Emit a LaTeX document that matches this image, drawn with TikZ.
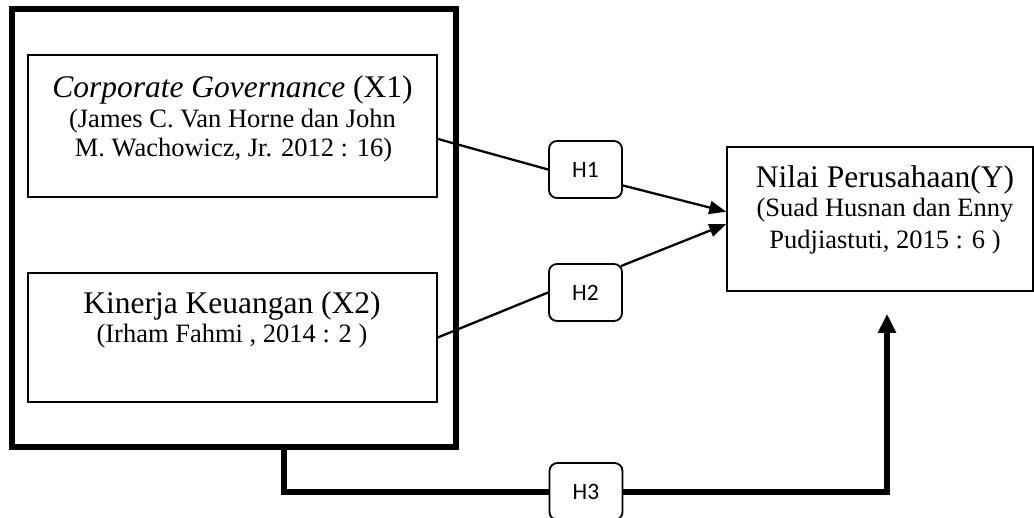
\documentclass[tikz,border=0pt]{standalone}
\usepackage{fontspec}
\setmainfont{Liberation Serif}
\newfontfamily\hfont{Carlito}
\usetikzlibrary{arrows.meta,calc}
\begin{document}
\begin{tikzpicture}[x=1pt,y=-1pt,
  outerbox/.style={draw,line width=6pt,inner sep=0pt,minimum width=444pt,minimum height=438pt},
  varbox/.style={draw,line width=1.5pt,inner sep=0pt,minimum width=409pt},
  bigtxt/.style={anchor=base,inner sep=0pt,font=\fontsize{31.5}{36}\selectfont},
  smalltxt/.style={anchor=base,inner sep=0pt,font=\fontsize{26.5}{31}\selectfont},
  hbox/.style={draw,line width=1.8pt,rounded corners=8pt,minimum width=73pt,minimum height=57pt,inner sep=0pt,font=\hfont\fontsize{23.5}{27}\selectfont},
  thinline/.style={line width=2.3pt},
  thinarrow/.style={line width=2.3pt,-{Triangle[length=17pt,width=13pt]}},
  thickline/.style={line width=6pt},
  thickarrow/.style={line width=6pt,-{Triangle[length=19pt,width=17pt]}}]
\useasboundingbox (0,0) rectangle (1034,517);
% outer group box
\node[outerbox] (outer) at (234,228) {};
% X1
\node[varbox,minimum height=142pt] (x1) at (232.5,126) {};
\node[bigtxt] (x1a) at (232.5,97) {\textit{Corporate Governance} (X1)};
\node[smalltxt] (x1b) at (232.5,127) {(James C. Van Horne dan John};
\node[smalltxt] (x1c) at (233.5,156) {M. Wachowicz, Jr. 2012 : 16)};
% X2
\node[varbox,minimum height=129pt] (x2) at (232.5,337.5) {};
\node[bigtxt] (x2a) at (232,313) {Kinerja Keuangan (X2)};
\node[smalltxt] (x2b) at (232,342) {(Irham Fahmi , 2014 : 2 )};
% Y
\node[varbox,minimum width=306pt,minimum height=144pt] (ybox) at (880,219) {};
\node[bigtxt] (ya) at (885,187) {Nilai Perusahaan(Y)};
\node[smalltxt] (yb) at (885,216) {(Suad Husnan dan Enny};
\node[smalltxt] (yc) at (885,248) {Pudjiastuti, 2015 : 6 )};
% hypotheses
\node[hbox] (h1) at (585.5,169.5) {H1};
\node[hbox] (h2) at (585.5,292.5) {H2};
\node[hbox] (h3) at (586,491.5) {H3};
% connectors
\draw[thinline] ($(x1.north east)!0.59!(x1.south east)$) -- (h1.west);
\draw[thinarrow] ($(h1.east)+(0,16)$) -- ($(ybox.north west)!0.45!(ybox.south west)$);
\draw[thinline] (x2.east) -- (h2.west);
\draw[thinarrow] ($(h2.north east)+(-2,3)$) -- ($(ybox.north west)!0.535!(ybox.south west)$);
\draw[thickline] ($(outer.south west)!0.61!(outer.south east)$) |- (h3.west);
\draw[thickarrow] (h3.east) -| ($(ybox.south)+(7,22)$);
\end{tikzpicture}
\end{document}
